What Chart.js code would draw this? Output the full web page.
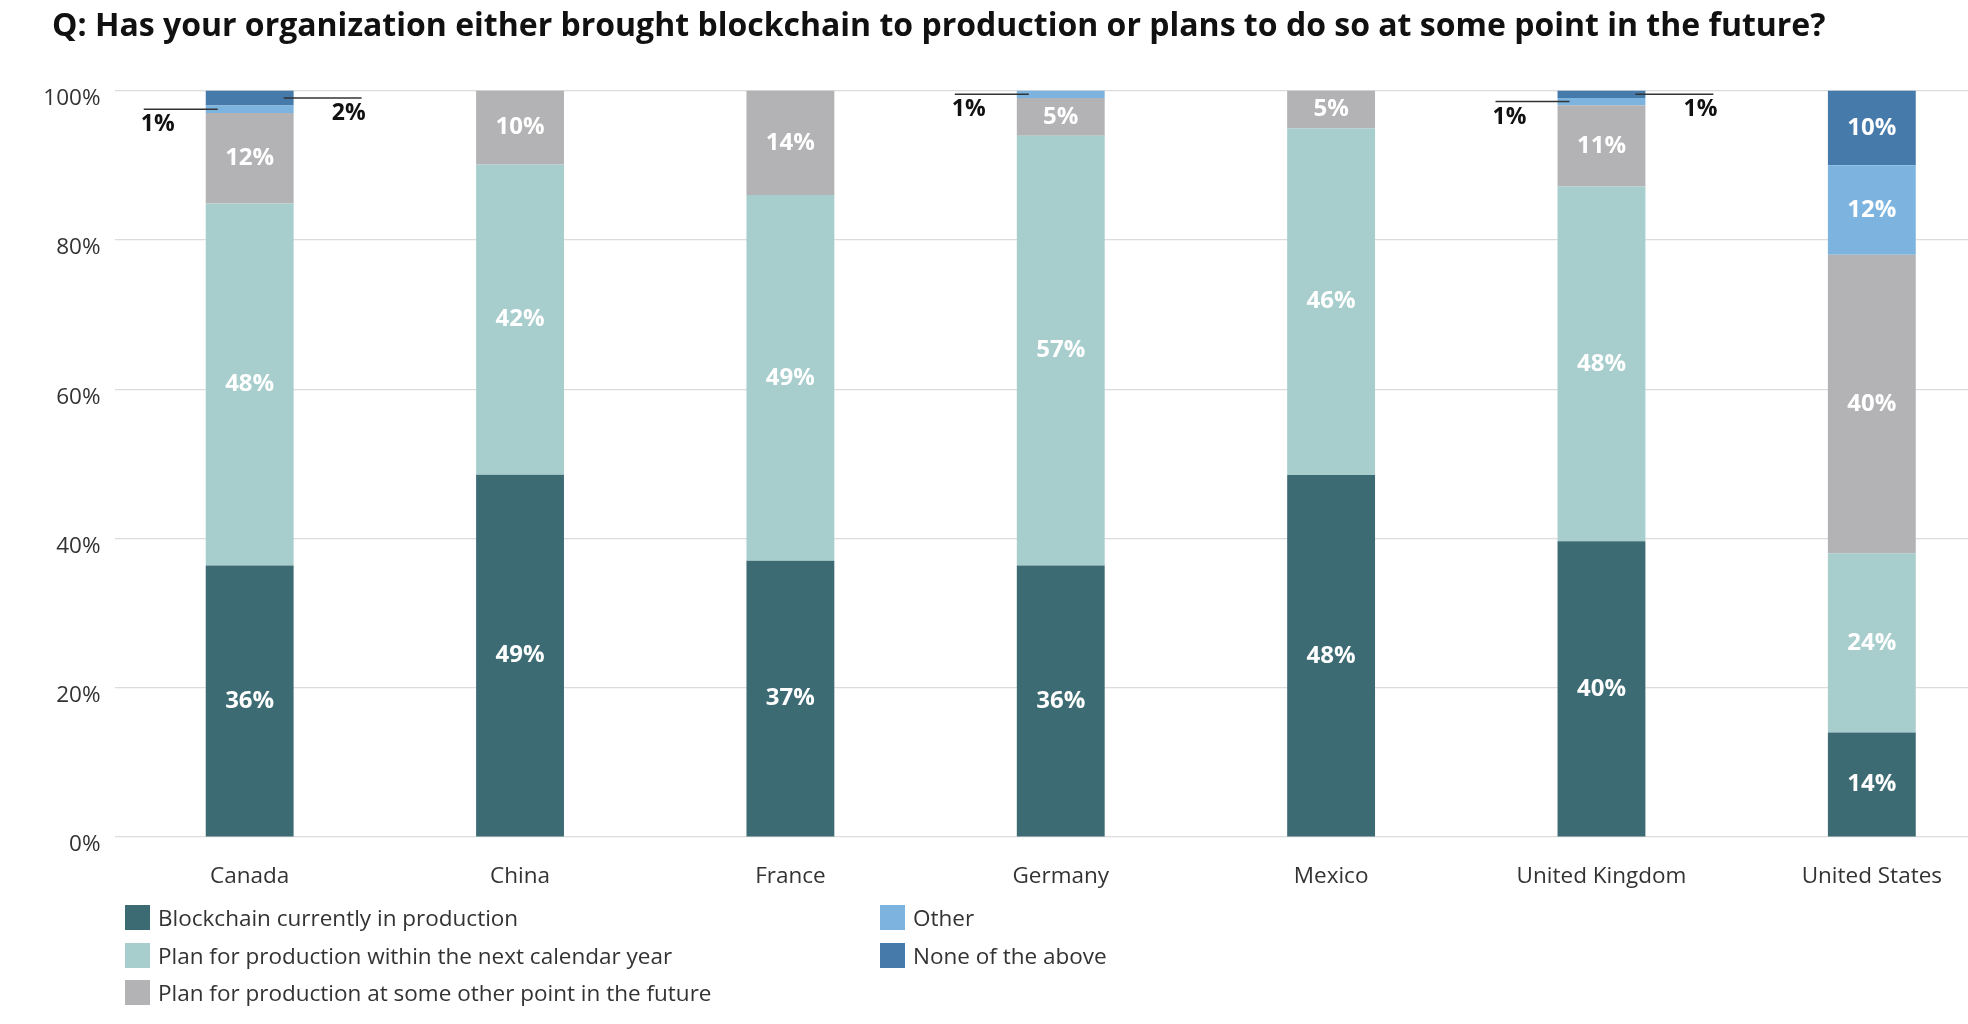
<!DOCTYPE html>
<html>
<head>
<meta charset="utf-8">
<title>Blockchain in production, by country</title>
<script src="https://cdn.jsdelivr.net/npm/chart.js@4.4.1/dist/chart.umd.min.js"></script>
<style>
  html, body { margin:0; padding:0; background:#fff; overflow:hidden; }
  #wrap { position:relative; width:2007px; height:1024px; }
  #title {
    position:absolute; left:52px; top:8px; margin:0;
    font:bold 32px/32px "Open Sans"; color:#111; white-space:nowrap;
  }
  #legend {
    position:absolute; left:125px; top:899px;
    display:grid; grid-auto-flow:column;
    grid-template-rows:repeat(3, 37.5px); grid-template-columns:755px auto;
    font:22.5px "Open Sans"; color:#333;
  }
  .lg-item { display:flex; align-items:center; white-space:nowrap; }
  .lg-box  { width:25px; height:25px; margin-right:8px; flex:none; }
</style>
</head>
<body>
<div id="wrap">
  <canvas id="c-chain"></canvas>
  <h1 id="title">Q: Has your organization either brought blockchain to production or plans to do so at some point in the future?</h1>
  <div id="legend"></div>
</div>
<script>
/* ── Data (survey answers, % of respondents) ─────────────── */
const COUNTRIES     = ["Canada","China","France","Germany","Mexico","United Kingdom","United States"];
const IN_PRODUCTION = [36, 49, 37, 36, 48, 40, 14];
const NEXT_YEAR     = [48, 42, 49, 57, 46, 48, 24];
const LATER         = [12, 10, 14,  5,  5, 11, 40];
const OTHER         = [ 1,  0,  0,  1,  0,  1, 12];
const NONE          = [ 2,  0,  0,  0,  0,  1, 10];
const SERIES_NAMES  = [
  "Blockchain currently in production",
  "Plan for production within the next calendar year",
  "Plan for production at some other point in the future",
  "Other",
  "None of the above",
];
const SERIES_COLORS = ["#3d6b74","#a7cdcc","#b3b3b5","#7db4df","#467aab"];
// small answers get a leader line instead of an inside label
const SMALL_SIDE    = [null, null, null, "left", "right"];

const FONT = "Open Sans";
const SERIES = [IN_PRODUCTION, NEXT_YEAR, LATER, OTHER, NONE];

// 100% stacked: each bar is scaled to its own total
const TOTALS = COUNTRIES.map((_, j) => SERIES.reduce((s, arr) => s + arr[j], 0));
const share  = arr => arr.map((v, j) => v / TOTALS[j] * 100);

/* ── Segment labels + leader lines ───────────────────────── */
const segmentLabels = {
  id: "segmentLabels",
  afterDatasetsDraw(chart) {
    const ctx = chart.ctx;
    ctx.save();
    chart.data.datasets.forEach((ds, i) => {
      const meta = chart.getDatasetMeta(i);
      meta.data.forEach((bar, j) => {
        const v = SERIES[i][j];
        if (!v) return;
        const { x, y, base, width } = bar.getProps(["x","y","base","width"], true);
        const cy = (y + base) / 2;
        const txt = v + "%";
        if (v > 2 || !SMALL_SIDE[i]) {
          ctx.font = `bold 24px "${FONT}"`;
          ctx.fillStyle = "#fff";
          ctx.textAlign = "center";
          ctx.textBaseline = "middle";
          ctx.fillText(txt, x, cy);
          return;
        }
        const left = SMALL_SIDE[i] === "left";
        const x0 = left ? x - width / 2 - 62 : x + width / 2 - 10;
        const x1 = left ? x - width / 2 + 12 : x + width / 2 + 68;
        ctx.strokeStyle = "#333";
        ctx.lineWidth = 1.5;
        ctx.beginPath();
        ctx.moveTo(x0, cy);
        ctx.lineTo(x1, cy);
        ctx.stroke();
        ctx.font = `bold 23px "${FONT}"`;
        ctx.fillStyle = "#111";
        ctx.textBaseline = "alphabetic";
        ctx.textAlign = left ? "left" : "right";
        ctx.fillText(txt, left ? x0 - 3 : x1 + 4, cy + 22);
      });
    });
    ctx.restore();
  },
};

/* ── Chart ───────────────────────────────────────────────── */
const chart = new Chart(document.getElementById("c-chain"), {
  type: "bar",
  data: {
    labels: COUNTRIES,
    datasets: SERIES.map((arr, i) => ({
      label: SERIES_NAMES[i],
      data: share(arr),
      backgroundColor: SERIES_COLORS[i],
      borderWidth: 0,
      barPercentage: 0.325,
      categoryPercentage: 1,
    })),
  },
  options: {
    responsive: true,
    maintainAspectRatio: false,
    animation: false,
    layout: { padding: { left: 40, right: 0, top: 90.5, bottom: 134 } },
    plugins: {
      legend: { display: false },
      tooltip: { enabled: false },
    },
    scales: {
      x: {
        stacked: true,
        grid: { display: false, drawTicks: false },
        border: { display: false },
        ticks: { color: "#333", font: { family: FONT, size: 22.5 }, padding: 26, maxRotation: 0 },
        afterFit: s => { s.height = 53; },
      },
      y: {
        stacked: true,
        min: 0, max: 100,
        grid: { color: "#dcdcdc", lineWidth: 1.2, drawTicks: false },
        border: { display: false },
        ticks: {
          stepSize: 20, color: "#333", padding: 14, labelOffset: 8,
          font: { family: FONT, size: 22.5 },
          callback: v => v + "%",
        },
        afterFit: s => { s.width = 74.5; },
      },
    },
  },
  plugins: [segmentLabels],
});

/* ── Legend (two columns, filled top to bottom) ──────────── */
document.getElementById("legend").innerHTML = chart.data.datasets.map(ds =>
  `<div class="lg-item"><span class="lg-box" style="background:${ds.backgroundColor}"></span>${ds.label}</div>`
).join("");
</script>
</body>
</html>
